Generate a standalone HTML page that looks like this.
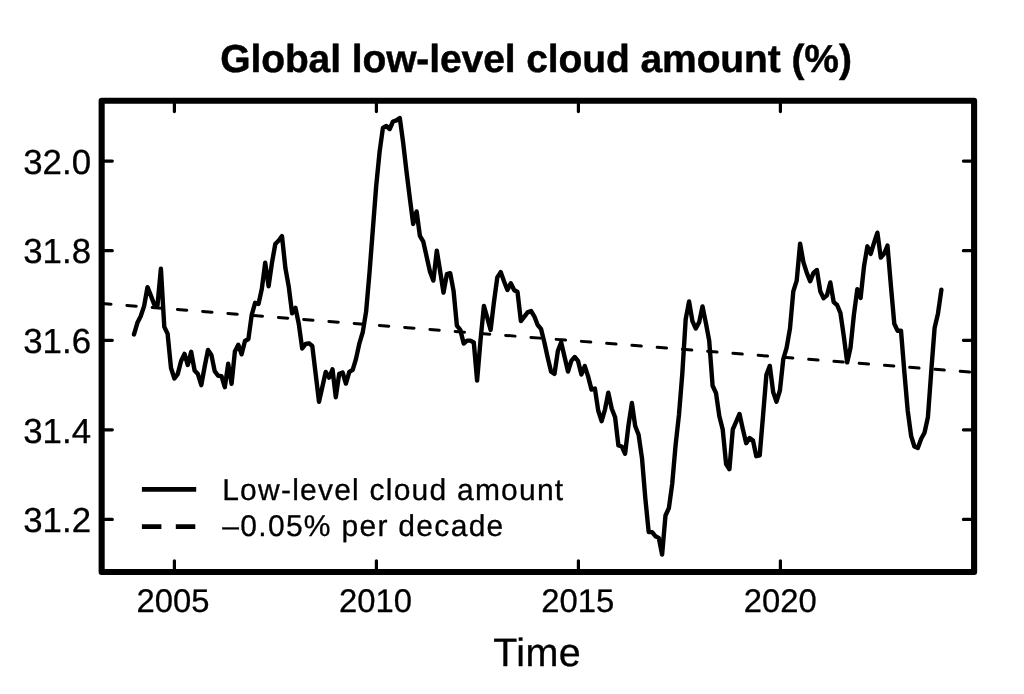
<!DOCTYPE html>
<html><head><meta charset="utf-8"><title>Global low-level cloud amount</title>
<style>
html,body{margin:0;padding:0;background:#fff;}
body{width:1024px;height:694px;overflow:hidden;font-family:"Liberation Sans",sans-serif;}
svg{display:block;will-change:transform;}
text{font-family:"Liberation Sans",sans-serif;fill:#000;stroke:#000;stroke-width:0.3px;stroke-linejoin:round;text-rendering:geometricPrecision;}
</style></head><body>
<svg width="1024" height="694" viewBox="0 0 1024 694">
<rect width="1024" height="694" fill="#fff"/>
<text x="536" y="72.2" text-anchor="middle" font-size="39" font-weight="bold" letter-spacing="-0.1" style="stroke-width:0.45px">Global low-level cloud amount (%)</text>
<g font-size="32.8"><text x="173.05" y="611.8" text-anchor="middle">2005</text><text x="375.6" y="611.8" text-anchor="middle">2010</text><text x="577.8" y="611.8" text-anchor="middle">2015</text><text x="780.3" y="611.8" text-anchor="middle">2020</text></g><g font-size="34.8"><text x="91.0" y="173.8" text-anchor="end">32.0</text><text x="91.0" y="263.4" text-anchor="end">31.8</text><text x="91.0" y="353.0" text-anchor="end">31.6</text><text x="91.0" y="442.5" text-anchor="end">31.4</text><text x="91.0" y="532.1" text-anchor="end">31.2</text></g>
<text x="537.2" y="666.3" text-anchor="middle" font-size="39.5" letter-spacing="0.4">Time</text>
<g stroke="#000" stroke-width="3.2" stroke-linecap="round" fill="none"><path d="M174.4 568.7V560.8M174.4 103.8V111.6"/><path d="M376.4 568.7V560.8M376.4 103.8V111.6"/><path d="M578.4 568.7V560.8M578.4 103.8V111.6"/><path d="M780.4 568.7V560.8M780.4 103.8V111.6"/><path d="M104.7 161.1H112.3M971 161.1H963.4"/><path d="M104.7 250.7H112.3M971 250.7H963.4"/><path d="M104.7 340.3H112.3M971 340.3H963.4"/><path d="M104.7 429.8H112.3M971 429.8H963.4"/><path d="M104.7 519.4H112.3M971 519.4H963.4"/></g>
<path d="M101.65 303.46L974.1 372.4" stroke="#000" stroke-width="3" stroke-linecap="round" stroke-dasharray="9.4 15.93" fill="none"/>
<polyline points="134.0,334.4 137.4,322.8 140.7,316.3 144.1,306.1 147.5,287.1 150.8,295.4 154.2,304.4 157.5,305.2 160.9,268.6 164.3,326.9 167.6,333.8 171.0,368.0 174.4,378.5 177.7,374.1 181.1,361.0 184.5,353.9 187.8,365.0 191.2,351.8 194.6,370.5 197.9,374.1 201.3,385.2 204.6,367.0 208.0,349.9 211.4,354.9 214.7,371.1 218.1,375.7 221.5,376.1 224.8,387.2 228.2,363.8 231.6,383.8 234.9,351.5 238.3,344.8 241.6,354.3 245.0,341.0 248.4,339.0 251.7,315.0 255.1,302.8 258.5,303.9 261.8,289.0 265.2,262.7 268.6,286.3 271.9,263.2 275.3,244.0 278.7,240.5 282.0,236.2 285.4,268.2 288.7,286.3 292.1,313.3 295.5,307.9 298.8,324.0 302.2,348.5 305.6,344.0 308.9,343.3 312.3,345.9 315.7,374.3 319.0,401.7 322.4,386.8 325.7,371.9 329.1,377.7 332.5,369.3 335.8,397.2 339.2,373.8 342.6,372.5 345.9,383.6 349.3,371.9 352.7,369.9 356.0,358.9 359.4,343.3 362.8,332.0 366.1,311.7 369.5,272.8 372.8,230.0 376.2,186.0 379.6,151.7 382.9,128.0 386.3,126.0 389.7,129.0 393.0,121.5 396.4,120.4 399.8,118.0 403.1,142.2 406.5,171.6 409.8,198.0 413.2,224.0 416.6,211.4 419.9,235.9 423.3,241.7 426.7,256.9 430.0,271.8 433.4,280.6 436.8,250.6 440.1,270.9 443.5,292.6 446.9,274.2 450.2,273.2 453.6,291.2 456.9,325.7 460.3,329.9 463.7,343.5 467.0,340.6 470.4,340.6 473.8,342.5 477.1,380.5 480.5,340.6 483.9,305.9 487.2,317.3 490.6,329.9 493.9,302.5 497.3,277.4 500.7,272.1 504.0,281.3 507.4,290.0 510.8,283.2 514.1,290.0 517.5,292.0 520.9,321.1 524.2,316.9 527.6,312.4 531.0,311.0 534.3,316.3 537.7,325.0 541.0,328.9 544.4,342.5 547.8,358.0 551.1,371.7 554.5,373.9 557.9,350.7 561.2,342.4 564.6,357.0 568.0,371.6 571.3,360.9 574.7,357.0 578.0,360.9 581.4,374.5 584.8,366.1 588.1,376.4 591.5,389.6 594.9,388.5 598.2,410.5 601.6,421.2 605.0,409.5 608.3,392.7 611.7,408.5 615.1,417.3 618.4,445.5 621.8,446.5 625.1,453.8 628.5,425.1 631.9,403.0 635.2,426.0 638.6,434.8 642.0,458.3 645.3,498.1 648.7,532.1 652.1,532.1 655.4,536.2 658.8,537.9 662.1,554.5 665.5,515.5 668.9,508.0 672.2,484.0 675.6,445.0 679.0,414.5 682.3,373.7 685.7,319.2 689.1,301.5 692.4,321.1 695.8,328.5 699.2,322.1 702.5,306.4 705.9,323.1 709.2,340.6 712.6,385.7 716.0,393.0 719.3,416.0 722.7,429.4 726.1,464.0 729.4,469.2 732.8,429.4 736.2,421.6 739.5,414.0 742.9,429.4 746.2,443.2 749.6,438.0 753.0,440.6 756.3,456.2 759.7,455.3 763.1,415.0 766.4,374.7 769.8,365.9 773.2,392.2 776.5,401.7 779.9,390.5 783.3,359.0 786.6,347.8 790.0,328.4 793.3,291.4 796.7,280.7 800.1,243.6 803.4,262.2 806.8,272.9 810.2,281.3 813.5,272.9 816.9,270.0 820.3,291.4 823.6,298.2 827.0,295.3 830.3,282.5 833.7,302.1 837.1,305.0 840.4,312.8 843.8,336.2 847.2,362.4 850.5,347.8 853.9,314.8 857.3,289.3 860.6,298.0 864.0,266.4 867.4,246.3 870.7,253.9 874.1,242.6 877.4,232.7 880.8,257.6 884.2,253.6 887.5,245.6 890.9,285.7 894.3,323.8 897.6,330.7 901.0,330.7 904.4,372.5 907.7,410.5 911.1,435.8 914.4,446.5 917.8,448.0 921.2,438.7 924.5,432.8 927.9,417.3 931.3,370.6 934.6,328.0 938.0,313.4 941.4,289.7" fill="none" stroke="#000" stroke-width="4.4" stroke-linejoin="round" stroke-linecap="round"/>
<rect x="101.65" y="100.7" width="872.45" height="471.3" fill="none" stroke="#000" stroke-width="6.1" stroke-linejoin="round"/>
<path d="M141.9 489.4H196.2" stroke="#000" stroke-width="4.9" fill="none"/>
<path d="M141.9 526.7H195.3" stroke="#000" stroke-width="4.8" stroke-dasharray="19.5 14.4" fill="none"/>
<g font-size="30" letter-spacing="1.3"><text x="222.2" y="499.6" letter-spacing="1.23">Low-level cloud amount</text><text x="222.3" y="536">–0.05% per decade</text></g>
</svg>
</body></html>
